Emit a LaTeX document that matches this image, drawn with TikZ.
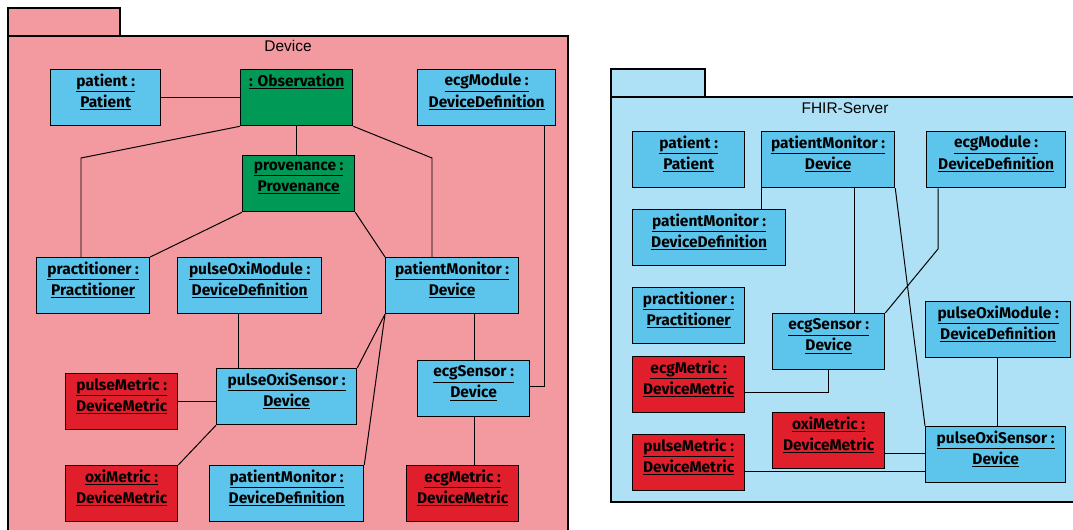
\documentclass[tikz,border=0pt]{standalone}
\usepackage{fontspec}
\setmainfont{Liberation Sans}
\newfontfamily\objfont{Fira Sans}
\usetikzlibrary{calc}

\definecolor{pkgpink}{HTML}{F29A9F}
\definecolor{pkgblue}{HTML}{AEE1F5}
\definecolor{objblue}{HTML}{5DC4EC}
\definecolor{objgreen}{HTML}{009A56}
\definecolor{objred}{HTML}{E11F2C}

\newcommand{\oname}[2]{\underline{#1}\\\underline{#2}}

\tikzset{
  obj/.style={draw, line width=0.9pt, anchor=north west, align=center, inner sep=0pt,
    minimum height=56*0.025cm, text depth=10pt,
    font=\objfont\bfseries\fontsize{11}{15}\selectfont},
  blueobj/.style={obj, fill=objblue, minimum width=#1*0.025cm},
  greenobj/.style={obj, fill=objgreen, minimum width=#1*0.025cm},
  redobj/.style={obj, fill=objred, minimum width=#1*0.025cm},
  link/.style={draw, line width=0.7pt},
  pkgtitle/.style={font=\fontsize{11}{13}\selectfont}
}

\begin{document}
\begin{tikzpicture}[x=0.025cm, y=-0.025cm]
    \useasboundingbox (0,0) rectangle (1073,530);
    \clip (0,0) rectangle (1073,530);

    % Device package
    \filldraw[fill=pkgpink, line width=0.8pt] (8,8) rectangle (120,36);
    \filldraw[fill=pkgpink, line width=0.8pt] (8,36) rectangle (568,545);
    \node[pkgtitle] (devtitle) at (288,46) {Device};

    % FHIR-Server package
    \filldraw[fill=pkgblue, line width=0.8pt] (611,69) rectangle (705,97);
    \filldraw[fill=pkgblue, line width=0.8pt] (611,97) rectangle (1085,502);
    \node[pkgtitle] (srvtitle) at (845,108) {FHIR-Server};

    % Objects on the device
    \node[blueobj=110] (pat) at (50,69) {\oname{patient :}{Patient}};
    \node[greenobj=112] (obs) at (240,69) {\underline{: Observation}\\\mbox{}};
    \node[blueobj=138] (ecgMod) at (417,69) {\oname{ecgModule :}{DeviceDefinition}};
    \node[greenobj=112] (prov) at (242,155) {\oname{provenance :}{Provenance}};
    \node[blueobj=113] (prac) at (36,257) {\oname{practitioner :}{Practitioner}};
    \node[blueobj=144] (poMod) at (177,257) {\oname{pulseOxiModule :}{DeviceDefinition}};
    \node[blueobj=133] (pm) at (385,257) {\oname{patientMonitor :}{Device}};
    \node[blueobj=140] (poSen) at (216,368) {\oname{pulseOxiSensor :}{Device}};
    \node[blueobj=112] (ecgSen) at (417,360) {\oname{ecgSensor :}{Device}};
    \node[redobj=112] (pulseM) at (65,373) {\oname{pulseMetric :}{DeviceMetric}};
    \node[redobj=112] (oxiM) at (65,465) {\oname{oxiMetric :}{DeviceMetric}};
    \node[blueobj=154] (pmDD) at (209,465) {\oname{patientMonitor :}{DeviceDefinition}};
    \node[redobj=112] (ecgM) at (406,465) {\oname{ecgMetric :}{DeviceMetric}};

    % Objects on the server
    \node[blueobj=112] (rpat) at (632,131) {\oname{patient :}{Patient}};
    \node[blueobj=133] (rpm) at (761,131) {\oname{patientMonitor :}{Device}};
    \node[blueobj=139] (recgMod) at (926,131) {\oname{ecgModule :}{DeviceDefinition}};
    \node[blueobj=153] (rpmDD) at (632,209) {\oname{patientMonitor :}{DeviceDefinition}};
    \node[blueobj=112] (rprac) at (632,287) {\oname{practitioner :}{Practitioner}};
    \node[blueobj=112] (recgSen) at (772,313) {\oname{ecgSensor :}{Device}};
    \node[blueobj=145] (rpoMod) at (925,301) {\oname{pulseOxiModule :}{DeviceDefinition}};
    \node[redobj=112] (recgM) at (632,356) {\oname{ecgMetric :}{DeviceMetric}};
    \node[redobj=112] (roxiM) at (772,412) {\oname{oxiMetric :}{DeviceMetric}};
    \node[redobj=112] (rpulseM) at (632,434) {\oname{pulseMetric :}{DeviceMetric}};
    \node[blueobj=140] (rpoSen) at (925,426) {\oname{pulseOxiSensor :}{Device}};

    % Bend points
    \coordinate (k1) at (81,158);
    \coordinate (k2) at (432,158);
    \coordinate (k3) at (544,386);
    \coordinate (k4) at (238,0);
    \coordinate (k5) at (474,0);
    \coordinate (k6) at (854,0);
    \coordinate (k7) at (938,249);
    \coordinate (k8) at (828,392);
    \coordinate (k9) at (997,0);
    \coordinate (k10) at (0,453);
    \coordinate (k11) at (0,471);

    % Links on the device
    \draw[link] (pat.east) -- (pat.east -| obs.west);
    \draw[link] (obs.south) -- (obs.south |- prov.north);
    \draw[link] (obs.south west) -- (k1) -- (k1 |- prac.north);
    \draw[link] (obs.south east) -- (k2) -- (k2 |- pm.north);
    \draw[link] (prov.south west) -- (prac.north east);
    \draw[link] (prov.south east) -- (pm.north west);
    \draw[link] (k3 |- ecgMod.south) -- (k3) -- (k3 -| ecgSen.east);
    \draw[link] (k4 |- poMod.south) -- (k4 |- poSen.north);
    \draw[link] (pm.south west) -- (poSen.north east);
    \draw[link] (pm.south west) -- (pmDD.north east);
    \draw[link] (k5 |- pm.south) -- (k5 |- ecgSen.north);
    \draw[link] (k5 |- ecgSen.south) -- (k5 |- ecgM.north);
    \draw[link] (pulseM.east) -- (pulseM.east -| poSen.west);
    \draw[link] (poSen.south west) -- (oxiM.north east);

    % Links on the server
    \draw[link] (rpm.south west) -- (rpm.south west |- rpmDD.north);
    \draw[link] (k6 |- rpm.south) -- (k6 |- recgSen.north);
    \draw[link] (rpm.south east) -- (rpoSen.north west);
    \draw[link] (k7 |- recgMod.south) -- (k7) -- (recgSen.north east);
    \draw[link] (k8 |- recgSen.south) -- (k8) -- (k8 -| recgM.east);
    \draw[link] (k9 |- rpoMod.south) -- (k9 |- rpoSen.north);
    \draw[link] (k10 -| roxiM.east) -- (k10 -| rpoSen.west);
    \draw[link] (k11 -| rpulseM.east) -- (k11 -| rpoSen.west);
\end{tikzpicture}
\end{document}
